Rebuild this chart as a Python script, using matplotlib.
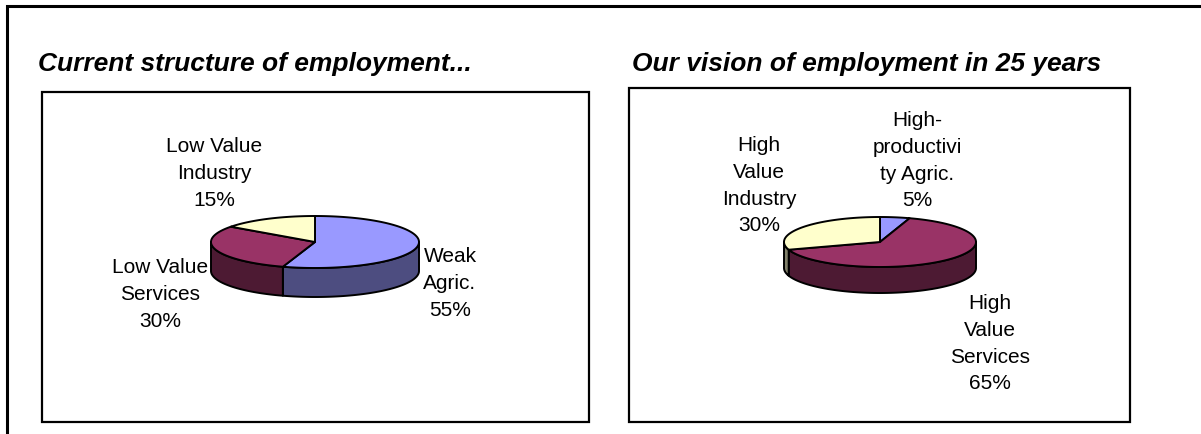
import numpy as np
import matplotlib
matplotlib.use("Agg")
import matplotlib.pyplot as plt
from matplotlib.patches import Polygon, Rectangle

plt.rcParams['font.family'] = ['Liberation Sans', 'DejaVu Sans']

# slices run clockwise from 12 o'clock: agriculture, services, industry
current_labels = ["Weak\nAgric.", "Low Value\nServices", "Low Value\nIndustry"]
current_shares = [55, 30, 15]

vision_labels = ["High-\nproductivi\nty Agric.", "High\nValue\nServices", "High\nValue\nIndustry"]
vision_shares = [5, 65, 30]

titles = ["Current structure of employment...", "Our vision of employment in 25 years"]

top_colors = ["#9999FF", "#993366", "#FFFFCC"]
side_colors = ["#4D4D80", "#4D1A33", "#80806A"]


def rim(cx, cy, a, b, t0, t1, dy=0.0, n=120):
    t = np.radians(np.linspace(t0, t1, n))
    return np.column_stack([cx + a * np.sin(t), cy - b * np.cos(t) + dy])


def pie3d(ax, shares, cx, cy, a, b, depth):
    edges = np.concatenate([[0], np.cumsum(shares)]) / sum(shares) * 360
    # front wall first (only the part facing the viewer, 90..270 deg)
    for i in range(len(shares)):
        s0, s1 = max(edges[i], 90), min(edges[i + 1], 270)
        if s1 > s0:
            top = rim(cx, cy, a, b, s0, s1)
            bot = rim(cx, cy, a, b, s0, s1, depth)[::-1]
            ax.add_patch(Polygon(np.vstack([top, bot]), closed=True,
                                 fc=side_colors[i], ec="black", lw=1.4,
                                 joinstyle="round", zorder=2))
    for i in range(len(shares)):
        pts = np.vstack([[cx, cy], rim(cx, cy, a, b, edges[i], edges[i + 1])])
        ax.add_patch(Polygon(pts, closed=True, fc=top_colors[i], ec="black",
                             lw=1.4, joinstyle="round", zorder=3))


def put_label(ax, x, y0, text, step=26.8):
    for k, line in enumerate(text.split("\n")):
        ax.text(x, y0 + k * step, line, ha="center", va="baseline",
                fontsize=15, color="black", zorder=4)


fig = plt.figure(figsize=(12.01, 4.34), dpi=100)
ax = fig.add_axes([0, 0, 1, 1])
ax.set_xlim(0, 1201)
ax.set_ylim(434, 0)
ax.axis("off")

# outer frame (left and top edges)
ax.plot([7, 7, 1201], [434, 6, 6], color="black", lw=2.2,
        solid_joinstyle="miter", solid_capstyle="projecting")

# chart boxes
ax.add_patch(Rectangle((42, 92), 589 - 42, 422 - 92, fill=False, ec="black", lw=1.6))
ax.add_patch(Rectangle((629, 88), 1130 - 629, 422 - 88, fill=False, ec="black", lw=1.6))

ax.text(38, 71, titles[0], fontsize=19, fontweight="bold", fontstyle="italic",
        ha="left", va="baseline")
ax.text(632, 71, titles[1], fontsize=19, fontweight="bold", fontstyle="italic",
        ha="left", va="baseline")

pie3d(ax, current_shares, 315, 242, 104, 26, 29)
pie3d(ax, vision_shares, 880, 242, 96, 25, 26)

current_pos = [(450, 262), (160, 273), (214, 152)]
vision_pos = [(917, 126), (990, 309), (759, 151)]

for lab, share, (x, y) in zip(current_labels, current_shares, current_pos):
    put_label(ax, x, y, f"{lab}\n{share}%")
for lab, share, (x, y) in zip(vision_labels, vision_shares, vision_pos):
    put_label(ax, x, y, f"{lab}\n{share}%")

fig.savefig("out.png", dpi=100)
